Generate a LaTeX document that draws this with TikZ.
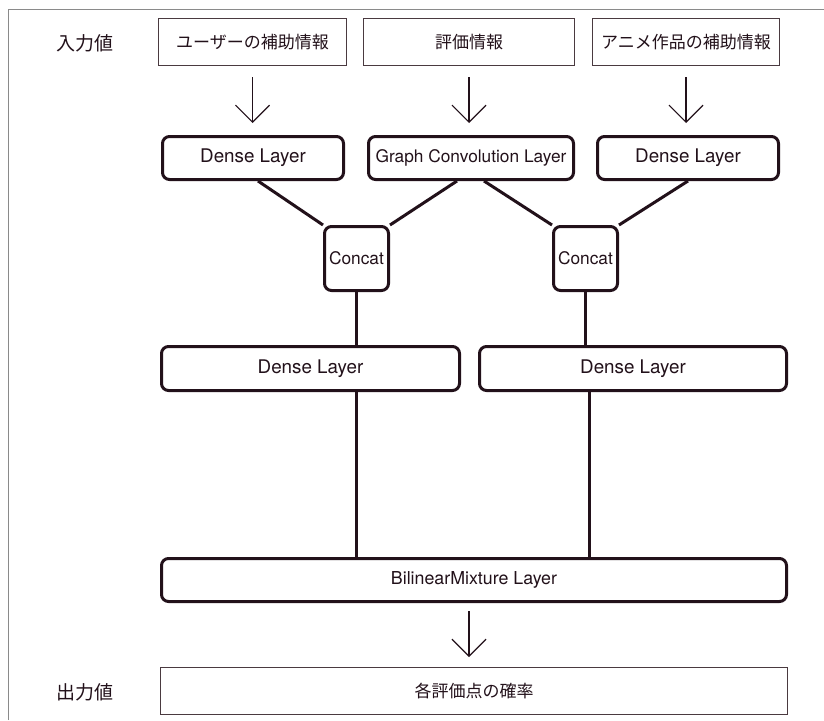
\documentclass[tikz,border=0pt]{standalone}
\usepackage{fontspec}
\setmainfont{TeX Gyre Heros}
\newfontfamily\jp{Noto Sans CJK JP}
\usetikzlibrary{arrows.meta,calc}
\definecolor{ink}{HTML}{22111A}
\definecolor{inkthin}{HTML}{4A3A40}
\definecolor{framegray}{HTML}{8A8A8A}
\tikzset{
  layerbox/.style={draw=ink, line width=3pt, rounded corners=7pt, fill=white, inner sep=0pt, text=ink,
    font=\fontsize{17.5}{20}\selectfont},
  inbox/.style={draw=inkthin, line width=1pt, fill=white, inner sep=0pt, text=ink,
    font=\jp\fontsize{17}{20}\selectfont},
  sidelabel/.style={text=ink, font=\jp\fontsize{19}{22}\selectfont, inner sep=0pt},
  link/.style={draw=ink, line width=3pt},
  flow/.style={draw=ink, line width=1.2pt, -{Straight Barb[length=17pt,width=34pt]}}
}
\begin{document}
\begin{tikzpicture}[x=1pt,y=-1pt]
\useasboundingbox (0,0) rectangle (824,720);
% frame
\draw[framegray, line width=1pt] (8,720) -- (8,9) -- (824,9);
% side labels
\node[sidelabel] (lin) at (85,43) {入力値};
\node[sidelabel] (lout) at (85,692) {出力値};
% inputs
\node[inbox, minimum width=188pt, minimum height=47pt] (in1) at (252.5,42) {ユーザーの補助情報};
\node[inbox, minimum width=211pt, minimum height=47pt] (in2) at (469,42) {評価情報};
\node[inbox, minimum width=187pt, minimum height=47pt] (in3) at (686,42) {アニメ作品の補助情報};
% first layer
\node[layerbox, minimum width=181pt, minimum height=43pt, font=\fontsize{18.8}{20}\selectfont] (d1) at (253,158) {Dense Layer};
\node[layerbox, minimum width=205pt, minimum height=43pt, font=\fontsize{17.3}{20}\selectfont] (gc) at (471,158) {Graph Convolution Layer};
\node[layerbox, minimum width=181pt, minimum height=43pt, font=\fontsize{18.8}{20}\selectfont] (d3) at (688,158) {Dense Layer};
% concat
\node[layerbox, minimum width=64pt, minimum height=64pt, font=\fontsize{17.3}{20}\selectfont] (c1) at (356.5,258.5) {Concat};
\node[layerbox, minimum width=64pt, minimum height=64pt, font=\fontsize{17.3}{20}\selectfont] (c2) at (585.5,258.5) {Concat};
% second dense
\node[layerbox, minimum width=298pt, minimum height=44pt, font=\fontsize{18.8}{20}\selectfont] (d2a) at (310.5,368.5) {Dense Layer};
\node[layerbox, minimum width=307pt, minimum height=44pt, font=\fontsize{18.8}{20}\selectfont] (d2b) at (633,368.5) {Dense Layer};
% bilinear
\node[layerbox, minimum width=625pt, minimum height=43pt, font=\fontsize{17.8}{20}\selectfont] (bl) at (474,580) {BilinearMixture Layer};
% output
\node[inbox, minimum width=627pt, minimum height=47pt] (out) at (474,691) {各評価点の確率};
% arrows
\draw[flow, shorten <=11pt, shorten >=12pt] (in1.south) -- (in1.south |- d1.north);
\draw[flow, shorten <=11pt, shorten >=12pt] (in2.south) -- (in2.south |- gc.north);
\draw[flow, shorten <=11pt, shorten >=12pt] (in3.south) -- (in3.south |- d3.north);
\draw[flow, shorten <=8pt, shorten >=10pt] (bl.south -| in2.south) -- (in2.south |- out.north);
% links to concat
\draw[link] ($(d1.south)+(5,0)$) -- (c1.north west);
\draw[link] ($(gc.south)+(-14,0)$) -- (c1.north east);
\draw[link] ($(gc.south)+(13,0)$) -- (c2.north west);
\draw[link] (d3.south) -- (c2.north east);
% concat to dense
\draw[link] (c1.south) -- (c1.south |- d2a.north);
\draw[link] (c2.south) -- (c2.south |- d2b.north);
% dense to bilinear
\draw[link] (c1.south |- d2a.south) -- (c1.south |- bl.north);
\draw[link] ($(c2.south |- d2b.south)+(3.5,0)$) -- ($(c2.south |- bl.north)+(3.5,0)$);
\end{tikzpicture}
\end{document}
